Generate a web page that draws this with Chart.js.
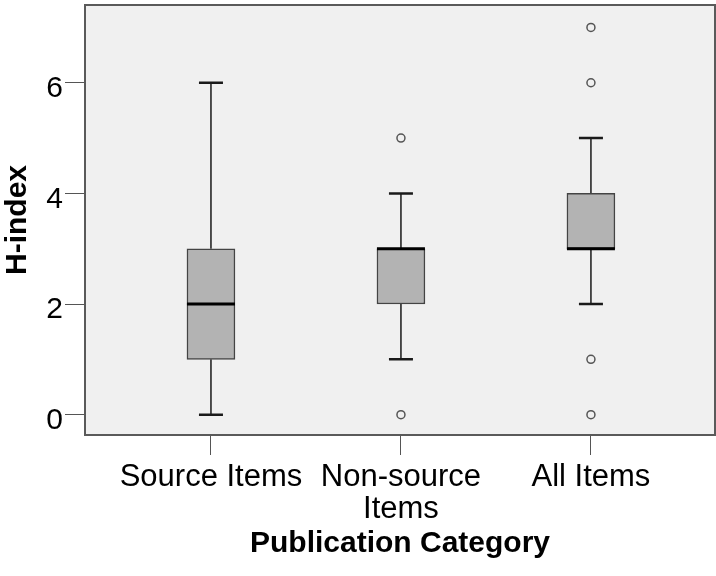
<!DOCTYPE html>
<html>
<head>
<meta charset="utf-8">
<title>H-index by publication category</title>
<script src="https://cdn.jsdelivr.net/npm/chart.js@4.4.1/dist/chart.umd.min.js"></script>
<style>
  html, body { margin: 0; padding: 0; background: #ffffff; }
  #wrap { width: 716px; height: 576px; position: relative; }
</style>
</head>
<body>
<div id="wrap"><canvas id="hindexBox"></canvas></div>
<script>
// box plot figures per category
var categories = ['Source Items', 'Non-source Items', 'All Items'];
var whiskerLow = [0, 1, 2];
var q1 = [1, 2, 3];
var median = [2, 3, 3];
var q3 = [3, 3, 4];
var whiskerHigh = [6, 4, 5];
var outliers = [[], [0, 5], [0, 1, 6, 7]];
var yTicks = [0, 2, 4, 6];

Chart.defaults.font.family = "'Liberation Sans', Arial, sans-serif";
Chart.defaults.color = '#000';

var boxData = categories.map(function (c, i) {
    return { x: i, y: [q1[i], q3[i]] };
});
var outlierData = [];
outliers.forEach(function (list, i) {
    list.forEach(function (v) { outlierData.push({ x: i, y: v }); });
});

// grey plot background, whiskers, medians and frame
var boxPlotParts = {
    id: 'boxPlotParts',
    beforeDraw: function (chart) {
        var a = chart.chartArea, ctx = chart.ctx;
        ctx.save();
        ctx.fillStyle = '#f0f0f0';
        ctx.fillRect(a.left, a.top, a.right - a.left, a.bottom - a.top);
        ctx.restore();
    },
    beforeDatasetsDraw: function (chart) {
        var xs = chart.scales.x, ys = chart.scales.y, ctx = chart.ctx;
        ctx.save();
        ctx.strokeStyle = '#1a1a1a';
        categories.forEach(function (c, i) {
            var x = xs.getPixelForValue(i);
            ctx.lineWidth = 1.5;
            ctx.beginPath();
            ctx.moveTo(x, ys.getPixelForValue(q3[i]));
            ctx.lineTo(x, ys.getPixelForValue(whiskerHigh[i]));
            ctx.moveTo(x, ys.getPixelForValue(q1[i]));
            ctx.lineTo(x, ys.getPixelForValue(whiskerLow[i]));
            ctx.stroke();
            ctx.lineWidth = 2.5;
            ctx.beginPath();
            [whiskerHigh[i], whiskerLow[i]].forEach(function (v) {
                var y = ys.getPixelForValue(v);
                ctx.moveTo(x - 12, y);
                ctx.lineTo(x + 12, y);
            });
            ctx.stroke();
        });
        ctx.restore();
    },
    afterDatasetsDraw: function (chart) {
        var xs = chart.scales.x, ys = chart.scales.y, ctx = chart.ctx, a = chart.chartArea;
        ctx.save();
        ctx.strokeStyle = '#000';
        ctx.lineWidth = 3;
        categories.forEach(function (c, i) {
            var x = xs.getPixelForValue(i), y = ys.getPixelForValue(median[i]);
            ctx.beginPath();
            ctx.moveTo(x - 24, y);
            ctx.lineTo(x + 24, y);
            ctx.stroke();
        });
        ctx.strokeStyle = '#5a5a5a';
        ctx.lineWidth = 2;
        ctx.strokeRect(a.left, a.top, a.right - a.left, a.bottom - a.top);
        ctx.restore();
    }
};

var ctx = document.getElementById('hindexBox').getContext('2d');
var myChart = new Chart(ctx, {
    type: 'bar',
    data: {
        datasets: [{
            type: 'scatter',
            data: outlierData,
            pointStyle: 'circle',
            pointRadius: 4,
            pointBorderWidth: 1.5,
            pointBorderColor: '#555',
            pointBackgroundColor: 'rgba(0,0,0,0)'
        }, {
            data: boxData,
            backgroundColor: '#b3b3b3',
            borderColor: '#444',
            borderWidth: 1.5,
            borderSkipped: false,
            barThickness: 48
        }]
    },
    options: {
        responsive: true,
        maintainAspectRatio: false,
        animation: false,
        layout: { autoPadding: false, padding: { top: 5, right: 1, left: 0, bottom: 0 } },
        plugins: {
            legend: { display: false },
            tooltip: { enabled: false }
        },
        scales: {
            x: {
                type: 'linear',
                offset: false,
                min: -0.663,
                max: 2.653,
                afterBuildTicks: function (s) {
                    s.ticks = categories.map(function (c, i) { return { value: i }; });
                },
                afterFit: function (s) {
                    s.height = 141;
                    s.paddingLeft = 0;
                    s.paddingRight = 0;
                },
                grid: { offset: false, drawOnChartArea: false, tickLength: 20, color: '#555', lineWidth: 1 },
                border: { display: false },
                ticks: {
                    padding: 7,
                    maxRotation: 0,
                    autoSkip: false,
                    font: { size: 31, lineHeight: 1.02 },
                    callback: function (v) {
                        var label = categories[v];
                        return label === 'Non-source Items' ? ['Non-source', 'Items'] : label;
                    }
                },
                title: {
                    display: true,
                    text: 'Publication Category',
                    font: { size: 30, weight: 'bold' },
                    padding: { top: 0, bottom: 14 }
                }
            },
            y: {
                min: -0.367,
                max: 7.405,
                afterBuildTicks: function (s) {
                    s.ticks = yTicks.map(function (v) { return { value: v }; });
                },
                afterFit: function (s) {
                    s.width = 85;
                    s.paddingTop = 0;
                    s.paddingBottom = 0;
                },
                grid: { drawOnChartArea: false, tickLength: 20, color: '#555', lineWidth: 1 },
                border: { display: false },
                ticks: {
                    padding: 2,
                    labelOffset: 6,
                    font: { size: 30 }
                },
                title: {
                    display: true,
                    text: 'H-index',
                    font: { size: 30, weight: 'bold' },
                    padding: { top: 0, bottom: 0 }
                }
            }
        }
    },
    plugins: [boxPlotParts]
});
</script>
</body>
</html>
